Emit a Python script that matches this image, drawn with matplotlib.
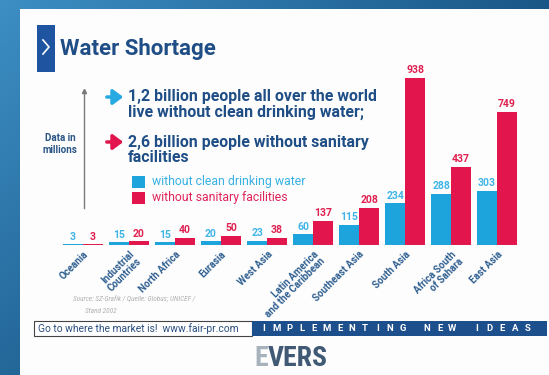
import matplotlib
matplotlib.use("Agg")
import matplotlib.pyplot as plt
from matplotlib.patches import Rectangle
import numpy as np

# %% Data (millions of people)
regions = ["Oceania", "Industrial\nCountries", "North Africa", "Eurasia", "West Asia",
           "Latin America\nand the Caribbean", "Southeast Asia", "South Asia",
           "Africa South\nof Sahara", "East Asia"]
no_drinking_water = [3, 15, 15, 20, 23, 60, 115, 234, 288, 303]
no_sanitation = [3, 20, 40, 50, 38, 137, 208, 938, 437, 749]

title = "Water Shortage"
headline_water = "1,2 billion people all over the world\nlive without clean drinking water;"
headline_sanit = "2,6 billion people without sanitary\nfacilities"
legend_labels = ["without clean drinking water", "without sanitary facilities"]
unit_label = "Data in\nmillions"
source_lines = ["Source: SZ-Grafik / Quelle: Globus; UNICEF /", "Stand 2002"]
footer_left = "Go to where the market is!  www.fair-pr.com"
footer_right = "IMPLEMENTING NEW IDEAS"

# %% Style
SANS = ["Roboto", "DejaVu Sans"]
NARROW = ["Roboto Condensed", "Roboto", "DejaVu Sans"]
BLUE = "#1ea4dd"
RED = "#e2154d"
NAVY = "#1f4e86"

W, H = 549, 375
fig = plt.figure(figsize=(W / 100, H / 100), dpi=100)

# background layer in pixel coordinates
bg = fig.add_axes([0, 0, 1, 1])
bg.set_xlim(0, W)
bg.set_ylim(H, 0)
bg.axis("off")

yy, xx = np.mgrid[0:H, 0:W]
t = np.clip(xx / W * 1.0 + yy / H * 0.7, 0, 1)[..., None]
light = np.array([0.24, 0.56, 0.77])
dark = np.array([0.10, 0.34, 0.53])
bg.imshow(light * (1 - t) + dark * t, extent=(0, W, H, 0), aspect="auto", zorder=0)

bg.add_patch(Rectangle((20, 9), W - 20, H - 9, fc="#fdfdfd", ec="none", zorder=1))

# title
bg.add_patch(Rectangle((37, 25), 18, 47, fc="#1f55a0", zorder=2))
bg.plot([43, 49, 43], [40, 47, 54], color="white", lw=1.2, zorder=3)
bg.text(60, 49, title, fontsize=16, fontweight="bold", color=NAVY,
        va="center", ha="left", family=SANS, zorder=3)

# headline
bg.annotate("", xy=(126, 97), xytext=(104, 97), zorder=3,
            arrowprops=dict(arrowstyle="-|>,head_width=0.45,head_length=0.6",
                            lw=2.5, color="#27a9e1"))
bg.annotate("", xy=(126, 142), xytext=(104, 142), zorder=3,
            arrowprops=dict(arrowstyle="-|>,head_width=0.45,head_length=0.6",
                            lw=2.5, color=RED))
bg.text(128, 104.5, headline_water, fontsize=11.4, fontweight="bold", color=NAVY,
        va="center", ha="left", family=SANS, linespacing=1.0, zorder=3)
bg.text(128, 149.5, headline_sanit, fontsize=11.4, fontweight="bold", color=NAVY,
        va="center", ha="left", family=SANS, linespacing=1.0, zorder=3)

# legend
for ypos, col, lab, tcol in [(176, BLUE, legend_labels[0], "#37b0e4"),
                             (192, RED, legend_labels[1], "#e0245a")]:
    bg.add_patch(Rectangle((132, ypos), 13, 12, fc=col, ec="none", zorder=3))
    bg.text(152, ypos + 6, lab, fontsize=8.8, color=tcol, va="center",
            ha="left", family=SANS, zorder=3)

# unit indicator
bg.plot([84, 84], [91, 208], color="#7a7a7a", lw=1, zorder=3)
bg.plot([84], [91], marker="^", ms=3, color="#7a7a7a", zorder=3)
bg.text(60, 144, unit_label, fontsize=7, fontweight="bold", color="#2a5585",
        ha="center", va="center", family=SANS, linespacing=1.2, zorder=3)

# source
bg.text(73, 299, source_lines[0], fontsize=5.2, style="italic", color="#b0b0b0",
        ha="left", va="center", family=NARROW, zorder=3)
bg.text(85, 311, source_lines[1], fontsize=5.2, style="italic", color="#b0b0b0",
        ha="left", va="center", family=NARROW, zorder=3)

# footer
bg.add_patch(Rectangle((34, 321), 218, 15, fc="white", ec="#444444", lw=0.8, zorder=3))
bg.text(38, 328.5, footer_left, fontsize=7.4, color="#2a4f80", ha="left",
        va="center", family=SANS, zorder=4)
bg.add_patch(Rectangle((252, 321), 295, 15, fc="#1e4f8d", ec="none", zorder=3))
xpos = 264
for ch in footer_right:
    if ch == " ":
        xpos += 12
        continue
    bg.text(xpos, 328.5, ch, fontsize=6.8, fontweight="bold", color="white",
            ha="center", va="center", family=SANS, zorder=4)
    xpos += 12.6

# logo
bg.text(268, 359, "E", fontsize=20, fontweight="bold", color="#a7b2bd",
        ha="right", va="center", family=NARROW, zorder=3)
bg.text(268, 359, "VERS", fontsize=20, fontweight="bold", color="#405a75",
        ha="left", va="center", family=NARROW, zorder=3)

# %% Bar chart
ax = fig.add_axes([60 / W, 1 - 245 / H, 462 / W, 190 / H])
ax.patch.set_alpha(0)
x = np.arange(len(regions))
w = 0.435
ax.bar(x - w / 2, no_drinking_water, w, color=BLUE, zorder=2)
ax.bar(x + w / 2, no_sanitation, w, color=RED, zorder=2)
for xi, v in zip(x, no_drinking_water):
    ax.annotate(str(v), (xi - w / 2, v), xytext=(0, 2), textcoords="offset points",
                ha="center", va="bottom", fontsize=7.5, fontweight="bold",
                color="#3fb4e6", family=SANS)
for xi, v in zip(x, no_sanitation):
    ax.annotate(str(v), (xi + w / 2, v), xytext=(0, 2), textcoords="offset points",
                ha="center", va="bottom", fontsize=7.5, fontweight="bold",
                color="#e02050", family=SANS)

ax.set_xlim(-0.5, 9.54)
ax.set_ylim(0, 1067)
ax.axhline(0, color="#9a9a9a", lw=0.8, zorder=3)
for s in ax.spines.values():
    s.set_visible(False)
ax.set_yticks([])
ax.set_xticks(x)
ax.set_xticklabels(regions, rotation=45, ha="right", va="top", rotation_mode="anchor",
                   fontsize=7, fontweight="bold", color="#2f5f90", family=SANS,
                   linespacing=1.0)
ax.tick_params(axis="x", length=0, pad=3)

fig.savefig("out.png", dpi=100)
